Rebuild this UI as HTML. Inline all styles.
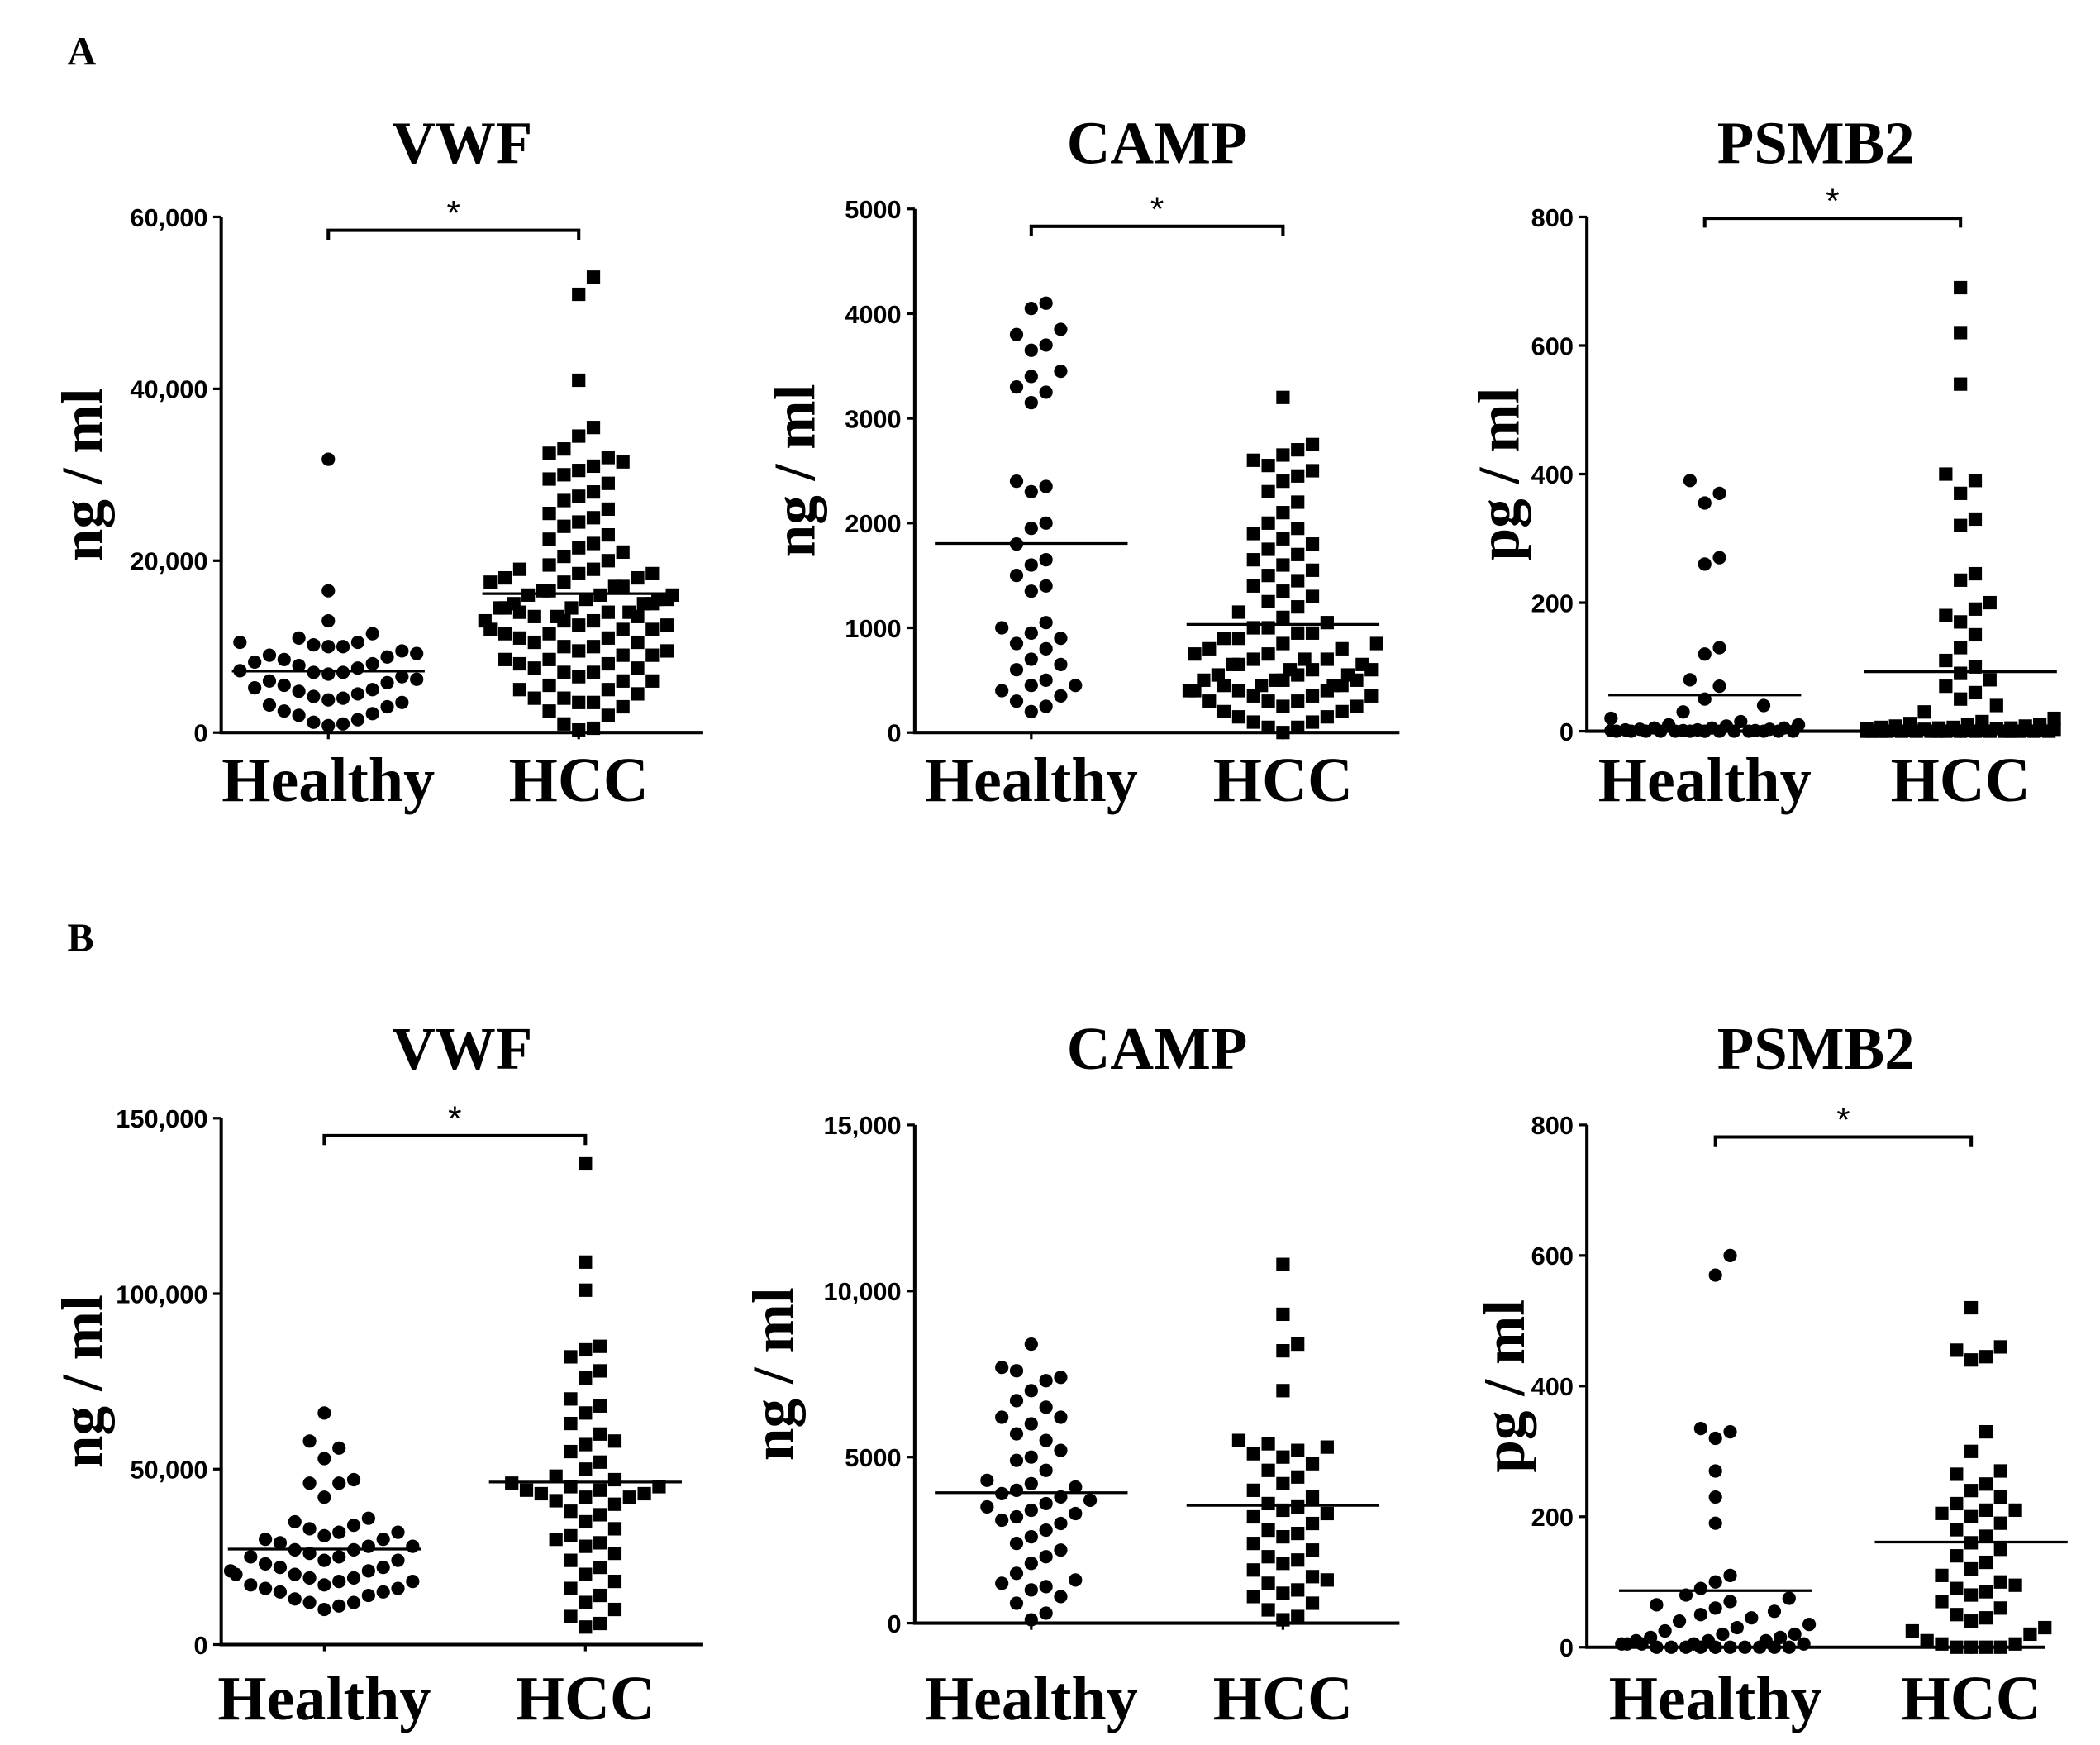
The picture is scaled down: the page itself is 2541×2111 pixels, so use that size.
<!DOCTYPE html>
<html><head><meta charset="utf-8"><style>
html,body{margin:0;padding:0;background:#fff;}
svg{display:block;}
.tick{font-family:"Liberation Sans",Arial,sans-serif;font-weight:bold;font-size:19px;}
.ser{font-family:"Liberation Serif","Times New Roman",serif;font-weight:bold;}
</style></head><body>
<svg id="fig" width="2541" height="2111" viewBox="0 0 1568 1303" xmlns="http://www.w3.org/2000/svg">
<text class="ser" x="50" y="48" font-size="30">A</text>
<text class="ser" x="50" y="710" font-size="30">B</text>
</svg>
<script>
const aVwfHealthy=[31800,16500,13000,11500,11000,10500,10500,10200,10000,10000,9500,9200,9000,8800,8500,8200,8000,7800,7500,7200,7000,7000,6800,6500,6200,6000,5800,5500,5200,5000,4800,4500,4200,4000,3800,3500,3200,3000,2500,2200,2000,1500,1200,1000,800];
const aVwfHcc=[53000,51000,41000,35500,34500,33000,32500,32000,31500,31000,30500,30000,29500,29000,28000,27500,27000,26000,25500,25000,24500,24000,23000,22500,22000,21500,21000,20500,20000,19500,19000,19000,18500,18500,18000,18000,17500,17500,17000,17000,16500,16500,16000,16000,16000,15500,15500,15500,15000,15000,15000,14500,14500,14500,14000,14000,14000,13500,13500,13500,13000,13000,13000,12500,12500,12000,12000,12000,11500,11500,11000,11000,10500,10500,10000,10000,9500,9500,9000,9000,8500,8500,8000,8000,7500,7500,7000,7000,6500,6000,6000,5500,5000,5000,4500,4000,4000,3500,3500,3000,2500,2000,1000,500,300];
const aCampHealthy=[4100,4050,3850,3800,3700,3650,3450,3400,3300,3250,3150,2400,2350,2300,2000,1950,1800,1650,1600,1500,1400,1350,1050,1000,950,900,850,800,700,650,600,500,450,450,400,350,300,250,200];
const aCampHcc=[3200,2750,2700,2650,2600,2550,2500,2450,2400,2300,2200,2100,2000,1950,1900,1850,1800,1750,1700,1650,1600,1550,1500,1450,1400,1350,1300,1250,1200,1150,1100,1050,1000,1000,950,950,900,900,850,850,800,800,750,750,700,700,700,650,650,650,600,600,600,550,550,550,500,500,500,500,450,450,450,450,400,400,400,400,350,350,350,300,300,300,250,250,200,200,150,150,100,100,50,50,0];
const aPsmbHealthy=[390,370,355,270,260,130,120,80,70,50,40,30,20,15,10,10,8,5,5,5,3,3,2,2,1,1,1,0,0,0,0,0,0,0,0,0,0,0,0,0];
const aPsmbHcc=[690,620,540,400,390,370,330,320,245,235,200,190,180,170,150,130,110,100,90,80,70,60,50,40,30,20,15,12,10,10,8,8,6,6,5,5,4,4,3,3,2,2,2,1,1,1,1,0,0,0,0,0,0,0,0,0,0,0,0,0,0,0,0,0];
const bVwfHealthy=[66000,58000,56000,53000,47000,46000,46000,42000,36000,35000,34000,33000,32000,32000,31000,30000,30000,29000,28000,28000,27000,27000,26000,25000,25000,24000,24000,23000,22000,22000,21000,21000,20000,20000,19000,19000,18000,18000,17000,17000,16000,16000,15000,15000,14000,13000,12000,12000,11000,10000];
const bVwfHcc=[137000,109000,101000,85000,84000,82000,78000,76000,70000,68000,66000,63000,60000,58000,57000,55000,52000,50000,48000,47000,46000,45000,45000,44000,44000,43000,43000,42000,42000,41000,40000,38000,37000,35000,33000,31000,30000,29000,28000,26000,24000,22000,20000,18000,16000,14000,12000,10000,8000,6000,5000];
const bCampHealthy=[8400,7700,7600,7400,7300,7000,6700,6500,6200,6200,6000,5700,5500,5200,5000,4900,4600,4300,4200,4100,4000,3900,3800,3700,3600,3500,3400,3300,3200,3100,3000,2800,2600,2400,2200,2000,1800,1500,1300,1200,1100,1000,800,600,300,100];
const bCampHcc=[10800,9300,8400,8200,7000,5500,5400,5300,5200,5100,5000,4800,4600,4400,4200,4000,3800,3600,3500,3400,3300,3200,3000,2800,2700,2600,2400,2200,2000,1900,1800,1600,1400,1300,1200,1000,900,800,600,400,200,100];
const bPsmbHealthy=[600,570,335,330,320,270,230,190,110,100,90,80,75,70,65,60,55,50,45,40,35,30,25,20,20,15,15,10,10,10,5,5,5,5,5,0,0,0,0,0,0,0,0,0,0];
const bPsmbHcc=[520,460,455,445,440,330,300,270,265,250,240,230,220,210,210,205,200,190,180,170,160,150,140,130,120,110,100,95,90,85,80,70,60,50,45,40,30,25,20,10,5,5,0,0,0,0];
const categories=["Healthy","HCC"];
const ticksVwfA=[0,20000,40000,60000],labVwfA=["0","20,000","40,000","60,000"];
const ticksCampA=[0,1000,2000,3000,4000,5000],labCampA=["0","1000","2000","3000","4000","5000"];
const ticksPsmb=[0,200,400,600,800],labPsmb=["0","200","400","600","800"];
const ticksVwfB=[0,50000,100000,150000],labVwfB=["0","50,000","100,000","150,000"];
const ticksCampB=[0,5000,10000,15000],labCampB=["0","5000","10,000","15,000"];

const NS="http://www.w3.org/2000/svg";
const svg=document.getElementById('fig');
function mk(tag,attrs,parent){const e=document.createElementNS(NS,tag);for(const k in attrs)e.setAttribute(k,attrs[k]);(parent||svg).appendChild(e);return e;}

const panels=[
{id:'a-vwf',x0:165,x1:525,yT:162,yB:547,max:60000,ticks:ticksVwfA,labs:labVwfA,cx:[245,432],title:'VWF',ty:122,yl:'ng / ml',ylx:76,ly:598,br:172,data:[aVwfHealthy,aVwfHcc]},
{id:'a-camp',x0:683,x1:1045,yT:156,yB:547,max:5000,ticks:ticksCampA,labs:labCampA,cx:[770,958],title:'CAMP',ty:122,yl:'ng / ml',ylx:608,ly:598,br:169,data:[aCampHealthy,aCampHcc]},
{id:'a-psmb2',x0:1185,x1:1527,yT:162,yB:546,max:800,ticks:ticksPsmb,labs:labPsmb,cx:[1273,1464],title:'PSMB2',ty:122,yl:'pg / ml',ylx:1134,ly:598,br:163,data:[aPsmbHealthy,aPsmbHcc]},
{id:'b-vwf',x0:165,x1:525,yT:835,yB:1228,max:150000,ticks:ticksVwfB,labs:labVwfB,cx:[242,437],title:'VWF',ty:798,yl:'ng / ml',ylx:76,ly:1284,br:848,data:[bVwfHealthy,bVwfHcc]},
{id:'b-camp',x0:683,x1:1045,yT:840,yB:1212,max:15000,ticks:ticksCampB,labs:labCampB,cx:[770,958],title:'CAMP',ty:798,yl:'ng / ml',ylx:592,ly:1284,br:null,data:[bCampHealthy,bCampHcc]},
{id:'b-psmb2',x0:1185,x1:1527,yT:840,yB:1230,max:800,ticks:ticksPsmb,labs:labPsmb,cx:[1281,1472],title:'PSMB2',ty:798,yl:'pg / ml',ylx:1138,ly:1284,br:849,data:[bPsmbHealthy,bPsmbHcc]}
];

panels.forEach(p=>{
  const g=mk('g',{});
  
  
  const y=v=>p.yB-(v/p.max)*(p.yB-p.yT);
  const t=mk('text',{class:'ser',x:(p.x0+p.x1)/2,y:p.ty,'font-size':45,'text-anchor':'middle'},g);
  t.textContent=p.title;
  
  
  const cy=(p.yT+p.yB)/2;
  const yl=mk('text',{class:'ser',x:p.ylx,y:cy,'font-size':44,'text-anchor':'middle',transform:`rotate(-90 ${p.ylx} ${cy})`},g);
  yl.textContent=p.yl;
  
  
  const ax=mk('path',{d:`M${p.x0} ${p.yT}V${p.yB}H${p.x1}`,stroke:'#000','stroke-width':2.5,fill:'none'},g);
  
  
  p.ticks.forEach((v,i)=>{
    mk('line',{x1:p.x0-6,x2:p.x0,y1:y(v),y2:y(v),stroke:'#000','stroke-width':2},g);
    const tl=mk('text',{class:'tick',x:p.x0-10,y:y(v)+7,'text-anchor':'end'},g);
    tl.textContent=p.labs[i];
    
    
  });
  categories.forEach((c,i)=>{
    mk('line',{x1:p.cx[i],x2:p.cx[i],y1:p.yB,y2:p.yB+5,stroke:'#000','stroke-width':2},g);
    const cl=mk('text',{class:'ser',x:p.cx[i],y:p.ly,'font-size':47,'text-anchor':'middle'},g);
    cl.textContent=c;
    
    
  });
  if(p.br!==null){
    const b=mk('path',{d:`M${p.cx[0]} ${p.br+7}V${p.br}H${p.cx[1]}V${p.br+7}`,stroke:'#000','stroke-width':2.5,fill:'none'},g);
    
    
    const s=mk('text',{x:(p.cx[0]+p.cx[1])/2,y:p.br-4,'font-size':26,'text-anchor':'middle','font-family':'Liberation Sans, sans-serif'},g);
    s.textContent='*';
    
    
  }
  p.data.forEach((vals,gi)=>{
    const sz=11,placed=[],cap=70;
    const sorted=vals.slice().sort((a,b)=>a-b);
    let fallback=0;
    sorted.forEach(v=>{
      const py=y(v);let px=null;
      for(let k=0;k<30;k++){
        const off=(k===0?0:(k%2?1:-1)*Math.ceil(k/2)*sz);
        if(Math.abs(off)>cap)break;
        const tx=p.cx[gi]+off;
        if(!placed.some(q=>Math.abs(q[0]-tx)<sz*0.95&&Math.abs(q[1]-py)<sz*1.6)){px=tx;break;}
      }
      if(px===null){
        const slots=14;const k=(fallback++*5)%slots;
        px=p.cx[gi]-cap+k*(2*cap/(slots-1));
      }
      placed.push([px,py]);
      let m;
      if(gi===0) m=mk('circle',{cx:px,cy:py,r:5,fill:'#000'},g);
      else m=mk('rect',{x:px-5,y:py-5,width:10,height:10,fill:'#000'},g);
      
      
    });
    const mean=vals.reduce((a,b)=>a+b,0)/vals.length;
    const ml=mk('line',{x1:p.cx[gi]-72,x2:p.cx[gi]+72,y1:y(mean),y2:y(mean),stroke:'#000','stroke-width':2},g);
    
    
  });
});
</script>
</body></html>
